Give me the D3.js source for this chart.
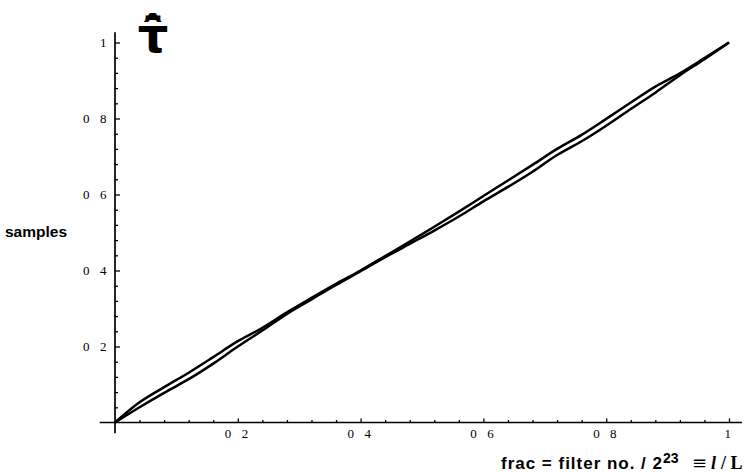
<!DOCTYPE html>
<html>
<head>
<meta charset="utf-8">
<title>samples vs frac</title>
<script src="https://cdnjs.cloudflare.com/ajax/libs/d3/7.8.5/d3.min.js"></script>
<style>
  body { margin: 0; background: #fff; }
  svg { display: block; }
  .tick text { font-family: "Liberation Serif", serif; font-size: 13px; letter-spacing: 3.6px; fill: #000; }
  .tick line { stroke: #000; stroke-width: 1.3px; }
  .axis-line { stroke: #000; stroke-width: 1.7px; }
  .curve { fill: none; stroke: #000; stroke-width: 2.5px; stroke-linejoin: round; }
</style>
</head>
<body>
<svg width="753" height="472"></svg>
<script>
    // values
    var frac = [0, 0.04, 0.08, 0.12, 0.16, 0.2, 0.24, 0.28, 0.32, 0.36, 0.4, 0.44, 0.48,
        0.52, 0.56, 0.6, 0.64, 0.68, 0.72, 0.76, 0.8, 0.84, 0.88, 0.92, 0.96, 1];
    var upperCurve = [0, 0.053, 0.093, 0.131, 0.172, 0.214, 0.249, 0.290, 0.328, 0.365, 0.400, 0.438, 0.476,
        0.515, 0.555, 0.596, 0.637, 0.678, 0.720, 0.757, 0.799, 0.842, 0.884, 0.919, 0.959, 1];
    var lowerCurve = [0, 0.040, 0.078, 0.114, 0.155, 0.200, 0.242, 0.286, 0.324, 0.362, 0.398, 0.435, 0.470,
        0.505, 0.542, 0.582, 0.620, 0.660, 0.704, 0.740, 0.781, 0.825, 0.868, 0.914, 0.956, 1];

    var majorTicks = [0.2, 0.4, 0.6, 0.8, 1];
    var majorLabels = ["0 2", "0 4", "0 6", "0 8", "1"];
    var minorTicks = d3.range(1, 25).filter(function (i) { return i % 5 !== 0; }).map(function (i) { return i * 0.04; });

    var svg = d3.select("svg");

    var x = d3.scaleLinear().domain([0, 1]).range([115, 729]);
    var y = d3.scaleLinear().domain([0, 1]).range([422.5, 42.5]);

    // axis lines run a little past the origin and past 1
    svg.append("line").attr("class", "axis-line")
        .attr("x1", x(-0.025)).attr("x2", x(1.021))
        .attr("y1", y(0)).attr("y2", y(0));
    svg.append("line").attr("class", "axis-line")
        .attr("x1", x(0)).attr("x2", x(0))
        .attr("y1", y(-0.028)).attr("y2", y(1.027));

    // x ticks point up, y ticks point right
    var gx = svg.append("g").attr("transform", "translate(0," + y(0) + ")");
    gx.call(d3.axisBottom(x).tickValues(majorTicks)
        .tickFormat(function (d, i) { return majorLabels[i]; })
        .tickSize(-4).tickPadding(6));
    gx.append("g").call(d3.axisBottom(x).tickValues(minorTicks).tickFormat("").tickSize(-2.5));

    var gy = svg.append("g").attr("transform", "translate(" + x(0) + ",0)");
    gy.call(d3.axisLeft(y).tickValues(majorTicks)
        .tickFormat(function (d, i) { return majorLabels[i]; })
        .tickSize(-5).tickPadding(5));
    gy.append("g").call(d3.axisLeft(y).tickValues(minorTicks).tickFormat("").tickSize(-3));

    svg.selectAll(".domain").remove();

    var line = d3.line()
        .x(function (d) { return x(d[0]); })
        .y(function (d) { return y(d[1]); })
        .curve(d3.curveMonotoneX);

    [upperCurve, lowerCurve].forEach(function (series) {
        svg.append("path")
            .datum(frac.map(function (f, i) { return [f, series[i]]; }))
            .attr("class", "curve")
            .attr("d", line);
    });

    // y axis label
    svg.append("text")
        .attr("x", 5).attr("y", 237)
        .style("font-family", "Liberation Sans, Arial, sans-serif")
        .style("font-weight", "bold").style("font-size", "15.5px")
        .text("samples");

    // tau with hat and bar, as combining marks
    svg.append("text")
        .attr("x", 153).attr("y", 52).attr("text-anchor", "middle")
        .style("font-family", "DejaVu Sans").style("font-weight", "bold").style("font-size", "48px")
        .text("\u03C4\u0302\u0304");

    // x axis label
    var xt = svg.append("text")
        .attr("y", 469)
        .style("font-family", "Liberation Sans, Arial, sans-serif")
        .style("font-weight", "bold");
    xt.append("tspan").attr("x", 501).attr("textLength", 161).attr("lengthAdjust", "spacing")
        .style("font-size", "17px").text("frac = filter no. / 2");
    xt.append("tspan").attr("x", 663).attr("y", 463).style("font-size", "14px").text("23");
    xt.append("tspan").attr("x", 692).attr("y", 469)
        .style("font-family", "DejaVu Serif").style("font-weight", "normal").style("font-size", "18px").text("≡");
    xt.append("tspan").attr("x", 711)
        .style("font-family", "Liberation Serif").style("font-style", "italic").style("font-size", "18px").text("l");
    xt.append("tspan").attr("x", 721)
        .style("font-family", "Liberation Serif").style("font-size", "18px").text("/ L");
</script>
</body>
</html>
